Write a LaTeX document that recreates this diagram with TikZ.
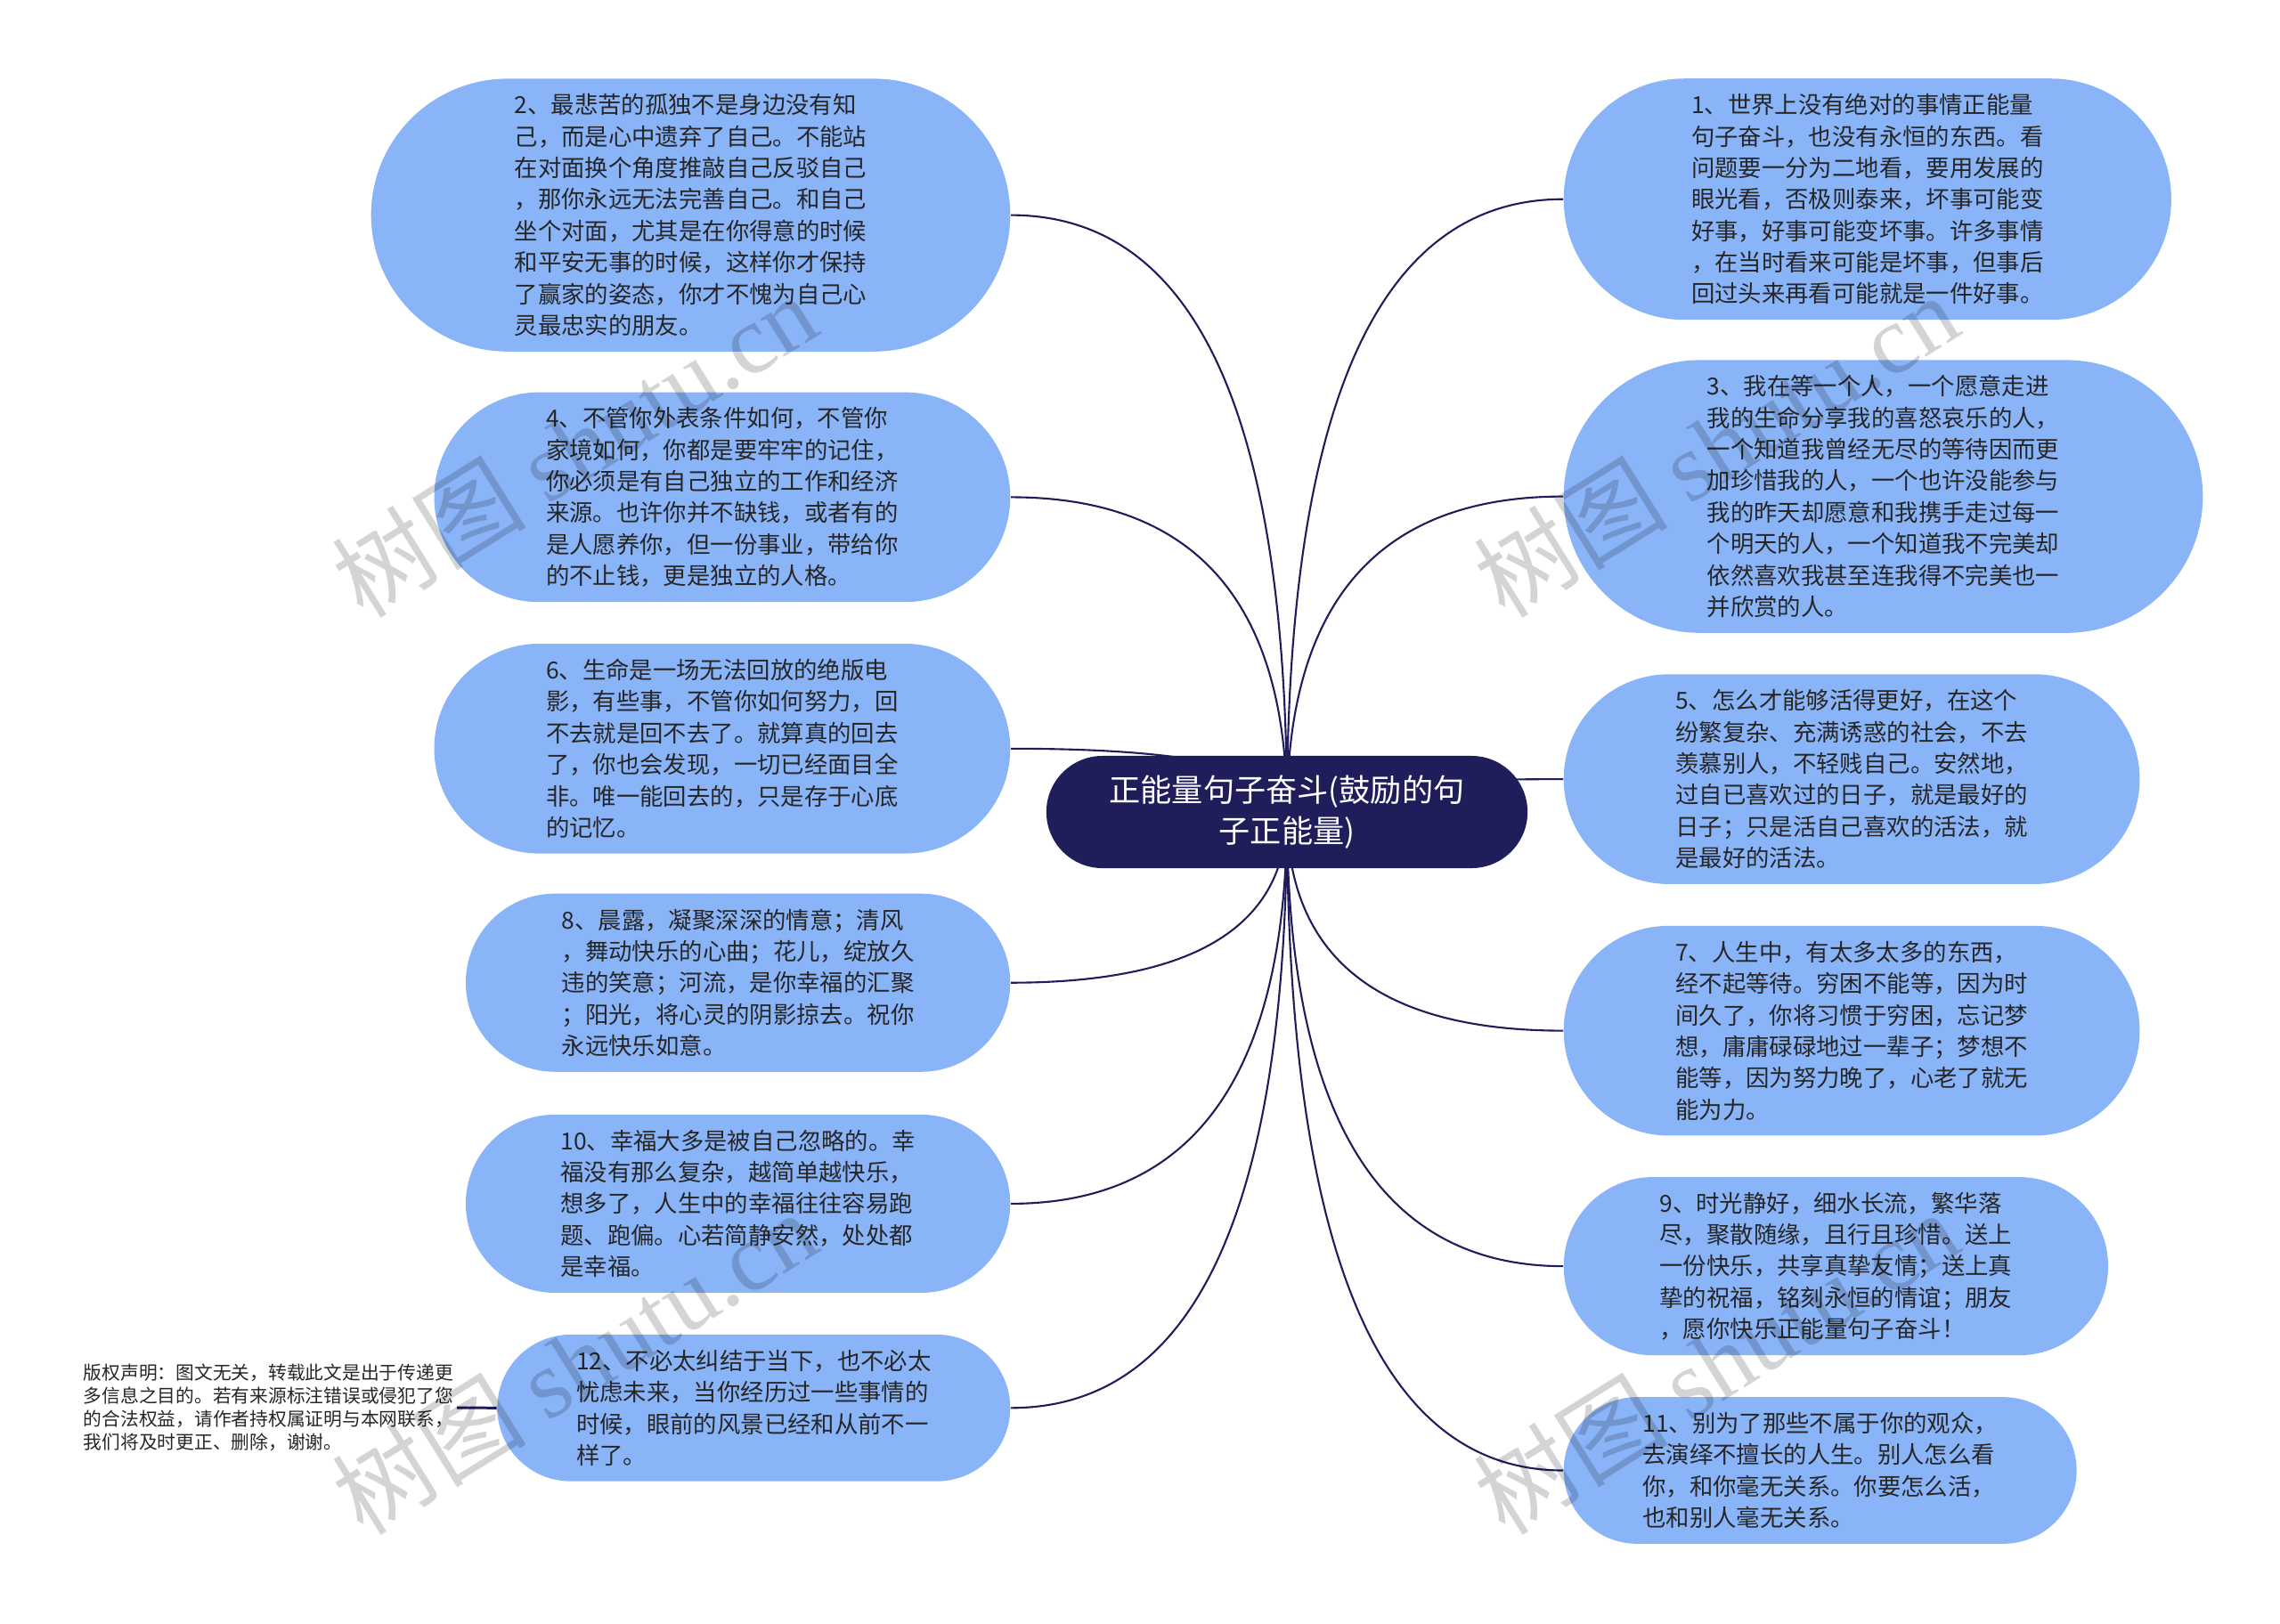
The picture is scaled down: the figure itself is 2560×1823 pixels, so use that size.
\documentclass[tikz,border=0pt]{standalone}
\usepackage{fontspec}
\setmainfont{Noto Sans CJK SC}
\newfontfamily\serifmark{Liberation Serif}
\usetikzlibrary{calc, shapes.misc}
\definecolor{navy}{HTML}{1F1D5A}
\definecolor{leafblue}{HTML}{8AB4F8}
\definecolor{ink}{HTML}{262626}
\pgfdeclarelayer{back}
\pgfsetlayers{back,main}
\tikzset{
  idea/.style={
    rounded rectangle,
    fill=leafblue,
    text=ink,
    inner sep=0pt,
    align=left,
    font=\fontsize{7.5}{10.05}\selectfont
  },
  nrows/.style={
    minimum height={0.354cm*#1+0.23cm},
    minimum width={0.354cm*#1+4.34cm}
  },
  topic/.style={
    rounded rectangle,
    fill=navy,
    text=white,
    align=center,
    inner sep=0pt,
    minimum width=5.4cm,
    minimum height=1.26cm,
    font=\fontsize{10}{13}\selectfont
  },
  link/.style={
    draw=navy, line width=0.6pt,
    to path={.. controls ($(\tikztostart)!2/3!(\tikztostart |- \tikztotarget)$)
      and ($(\tikztotarget)!2/3!(\tikztostart |- \tikztotarget)$) .. (\tikztotarget)}
  }
}

\begin{document}
\begin{tikzpicture}[
    x=0.01cm, y=-0.01cm,
    notice/.style={
        text=ink, align=left, inner sep=1pt,
        font=\fontsize{5.9}{7.43}\selectfont
    },
    wmark/.style={
        text=black, text opacity=0.17, rotate=32,
        font=\fontsize{31}{31}\selectfont
    }
]
\useasboundingbox (0,0) rectangle (2560,1823);

\node[topic] (theme) at (1445,912) {正能量句子奋斗(鼓励的句\\子正能量)};

\node[idea, nrows=8, anchor=east] (q2) at (1135,241.6)
  {2、最悲苦的孤独不是身边没有知\\己，而是心中遗弃了自己。不能站\\在对面换个角度推敲自己反驳自己\\，那你永远无法完善自己。和自己\\坐个对面，尤其是在你得意的时候\\和平安无事的时候，这样你才保持\\了赢家的姿态，你才不愧为自己心\\灵最忠实的朋友。};
\node[idea, nrows=6, anchor=east] (q4) at (1135,558.4)
  {4、不管你外表条件如何，不管你\\家境如何，你都是要牢牢的记住，\\你必须是有自己独立的工作和经济\\来源。也许你并不缺钱，或者有的\\是人愿养你，但一份事业，带给你\\的不止钱，更是独立的人格。};
\node[idea, nrows=6, anchor=east] (q6) at (1135,840.8)
  {6、生命是一场无法回放的绝版电\\影，有些事，不管你如何努力，回\\不去就是回不去了。就算真的回去\\了，你也会发现，一切已经面目全\\非。唯一能回去的，只是存于心底\\的记忆。};
\node[idea, nrows=5, anchor=east] (q8) at (1135,1103.7)
  {8、晨露，凝聚深深的情意；清风\\，舞动快乐的心曲；花儿，绽放久\\违的笑意；河流，是你幸福的汇聚\\；阳光，将心灵的阴影掠去。祝你\\永远快乐如意。};
\node[idea, nrows=5, anchor=east] (q10) at (1135,1351.9)
  {10、幸福大多是被自己忽略的。幸\\福没有那么复杂，越简单越快乐，\\想多了，人生中的幸福往往容易跑\\题、跑偏。心若简静安然，处处都\\是幸福。};
\node[idea, nrows=4, anchor=east] (q12) at (1135,1581.3)
  {12、不必太纠结于当下，也不必太\\忧虑未来，当你经历过一些事情的\\时候，眼前的风景已经和从前不一\\样了。};

\node[idea, nrows=7, anchor=west] (q1) at (1755,223.7)
  {1、世界上没有绝对的事情正能量\\句子奋斗，也没有永恒的东西。看\\问题要一分为二地看，要用发展的\\眼光看，否极则泰来，坏事可能变\\好事，好事可能变坏事。许多事情\\，在当时看来可能是坏事，但事后\\回过头来再看可能就是一件好事。};
\node[idea, nrows=8, anchor=west] (q3) at (1755,557.6)
  {3、我在等一个人，一个愿意走进\\我的生命分享我的喜怒哀乐的人，\\一个知道我曾经无尽的等待因而更\\加珍惜我的人，一个也许没能参与\\我的昨天却愿意和我携手走过每一\\个明天的人，一个知道我不完美却\\依然喜欢我甚至连我得不完美也一\\并欣赏的人。};
\node[idea, nrows=6, anchor=west] (q5) at (1755,875.1)
  {5、怎么才能够活得更好，在这个\\纷繁复杂、充满诱惑的社会，不去\\羡慕别人，不轻贱自己。安然地，\\过自已喜欢过的日子，就是最好的\\日子；只是活自己喜欢的活法，就\\是最好的活法。};
\node[idea, nrows=6, anchor=west] (q7) at (1755,1157.6)
  {7、人生中，有太多太多的东西，\\经不起等待。穷困不能等，因为时\\间久了，你将习惯于穷困，忘记梦\\想，庸庸碌碌地过一辈子；梦想不\\能等，因为努力晚了，心老了就无\\能为力。};
\node[idea, nrows=5, anchor=west] (q9) at (1755,1422.1)
  {9、时光静好，细水长流，繁华落\\尽，聚散随缘，且行且珍惜。送上\\一份快乐，共享真挚友情；送上真\\挚的祝福，铭刻永恒的情谊；朋友\\，愿你快乐正能量句子奋斗！};
\node[idea, nrows=4, anchor=west] (q11) at (1755,1651.5)
  {11、别为了那些不属于你的观众，\\去演绎不擅长的人生。别人怎么看\\你，和你毫无关系。你要怎么活，\\也和别人毫无关系。};

\node[notice, anchor=east] (note) at (513,1581)
  {版权声明：图文无关，转载此文是出于传递更\\多信息之目的。若有来源标注错误或侵犯了您\\的合法权益，请作者持权属证明与本网联系，\\我们将及时更正、删除，谢谢。};

\begin{pgfonlayer}{back}
\draw[link] (theme.center) to (q1.west);
\draw[link] (theme.center) to (q2.east);
\draw[link] (theme.center) to (q3.west);
\draw[link] (theme.center) to (q4.east);
\draw[link] (theme.center) to (q5.west);
\draw[link] (theme.center) to (q6.east);
\draw[link] (theme.center) to (q7.west);
\draw[link] (theme.center) to (q8.east);
\draw[link] (theme.center) to (q9.west);
\draw[link] (theme.center) to (q10.east);
\draw[link] (theme.center) to (q11.west);
\draw[link] (theme.center) to (q12.east);
\end{pgfonlayer}
\draw[navy, line width=0.85pt] (note.east) -- (q12.west);

\node[wmark] (wm1) at (645,500) {树图 {\serifmark shutu.cn}};
\node[wmark] (wm2) at (1927,500) {树图 {\serifmark shutu.cn}};
\node[wmark] (wm3) at (645,1530) {树图 {\serifmark shutu.cn}};
\node[wmark] (wm4) at (1927,1530) {树图 {\serifmark shutu.cn}};
\end{tikzpicture}
\end{document}
